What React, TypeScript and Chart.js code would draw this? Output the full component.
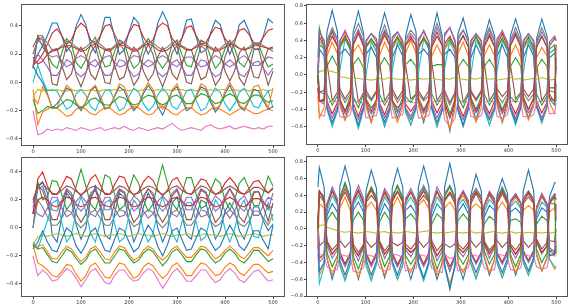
import React, { useEffect, useRef } from 'react';
import { Chart, registerables } from 'chart.js';
Chart.register(...registerables);

const COLORS = ['#1f77b4', '#ff7f0e', '#2ca02c', '#d62728', '#9467bd', '#8c564b', '#e377c2', '#7f7f7f', '#bcbd22', '#17becf'];
// sample positions: left panels every 10 steps; right panels at the start / middle / end of each half-cycle
const X = [0,10,20,30,40,50,60,70,80,90,100,110,120,130,140,150,160,170,180,190,200,210,220,230,240,250,260,270,280,290,300,310,320,330,340,350,360,370,380,390,400,410,420,430,440,450,460,470,480,490,500];
const RX = [0,3,13, 19,30,41,46,57,68, 74,85,96,101,112,123, 129,140,151,156,167,178, 184,195,206,211,222,233, 239,250,261,266,277,288, 294,305,316,321,332,343, 349,360,371,376,387,398, 404,415,426,431,442,453, 459,470,481,486,497, 500];
const X_TICKS = [0, 100, 200, 300, 400, 500];
const Y_TICKS_LEFT = [-0.4, -0.2, 0, 0.2, 0.4];
const Y_TICKS_TR = [-0.6, -0.4, -0.2, 0, 0.2, 0.4, 0.6, 0.8];
const Y_TICKS_BR = [-0.8, -0.6, -0.4, -0.2, 0, 0.2, 0.4, 0.6, 0.8];

// ---- top-left panel ----
const tlBlueA = [0.12,0.2,0.26,0.33,0.42,0.42,0.33,0.22,0.26,0.4,0.48,0.41,0.27,0.21,0.32,0.46,0.46,0.32,0.2,0.23,0.36,0.46,0.42,0.28,0.2,0.27,0.42,0.5,0.43,0.28,0.2,0.31,0.44,0.45,0.32,0.21,0.23,0.35,0.44,0.41,0.29,0.2,0.28,0.41,0.44,0.36,0.24,0.23,0.33,0.45,0.42];
const tlOrangeA = [-0.05,-0.3,-0.21,-0.19,-0.17,-0.18,-0.21,-0.24,-0.23,-0.19,-0.17,-0.19,-0.22,-0.23,-0.2,-0.18,-0.18,-0.21,-0.23,-0.22,-0.19,-0.17,-0.18,-0.21,-0.23,-0.22,-0.18,-0.17,-0.19,-0.22,-0.23,-0.2,-0.18,-0.18,-0.21,-0.23,-0.22,-0.19,-0.18,-0.19,-0.21,-0.23,-0.21,-0.19,-0.18,-0.2,-0.22,-0.22,-0.2,-0.19,-0.2];
const tlGreenA = [0.1,0.33,0.25,0.2,0.13,0.1,0.21,0.31,0.27,0.14,0.1,0.16,0.27,0.32,0.2,0.11,0.12,0.22,0.3,0.28,0.17,0.1,0.13,0.25,0.31,0.26,0.15,0.1,0.15,0.27,0.3,0.2,0.12,0.11,0.22,0.3,0.28,0.18,0.1,0.14,0.24,0.3,0.24,0.14,0.11,0.18,0.27,0.27,0.18,0.11,0.13];
const tlRedA = [0.12,0.15,0.2,0.27,0.35,0.38,0.33,0.27,0.3,0.38,0.42,0.39,0.3,0.27,0.33,0.4,0.41,0.34,0.27,0.28,0.35,0.41,0.4,0.32,0.27,0.3,0.39,0.42,0.4,0.31,0.27,0.31,0.39,0.4,0.33,0.27,0.28,0.34,0.39,0.38,0.31,0.27,0.3,0.37,0.38,0.34,0.28,0.27,0.32,0.37,0.38];
const tlPurpleA = [0.2,0.3,0.27,0.2,0.18,0.19,0.15,0.11,0.13,0.17,0.19,0.17,0.13,0.11,0.15,0.18,0.19,0.14,0.11,0.12,0.16,0.19,0.18,0.13,0.11,0.13,0.17,0.19,0.17,0.13,0.11,0.15,0.18,0.18,0.14,0.11,0.12,0.16,0.19,0.17,0.13,0.11,0.13,0.17,0.19,0.16,0.12,0.12,0.15,0.18,0.17];
const tlBrownA = [0.1,0.33,0.33,0.22,-0.01,-0.02,0.13,0.26,0.21,0.05,-0.03,0.06,0.21,0.26,0.13,0.0,-0.01,0.14,0.27,0.23,0.08,-0.02,0.03,0.19,0.27,0.2,0.05,-0.03,0.06,0.21,0.26,0.13,0.0,-0.01,0.14,0.26,0.23,0.08,-0.02,0.03,0.18,0.27,0.18,0.03,-0.02,0.08,0.23,0.24,0.1,-0.02,0.08];
const tlPink = [-0.2,-0.37,-0.36,-0.33,-0.34,-0.33,-0.34,-0.32,-0.33,-0.34,-0.32,-0.33,-0.34,-0.33,-0.32,-0.34,-0.33,-0.32,-0.33,-0.31,-0.33,-0.34,-0.32,-0.33,-0.34,-0.33,-0.32,-0.33,-0.31,-0.29,-0.32,-0.34,-0.33,-0.32,-0.33,-0.34,-0.31,-0.3,-0.32,-0.33,-0.32,-0.31,-0.33,-0.32,-0.31,-0.32,-0.33,-0.32,-0.33,-0.31,-0.31];
const tlGray = [0.2,0.3,0.32,0.28,0.23,0.23,0.26,0.29,0.28,0.25,0.23,0.25,0.28,0.29,0.27,0.24,0.23,0.26,0.29,0.28,0.25,0.23,0.24,0.27,0.29,0.28,0.25,0.23,0.25,0.28,0.29,0.26,0.24,0.23,0.26,0.29,0.28,0.25,0.23,0.24,0.27,0.29,0.27,0.24,0.23,0.25,0.28,0.28,0.26,0.24,0.24];
const tlOlive = [-0.1,-0.05,-0.06,-0.05,-0.06,-0.05,-0.06,-0.06,-0.05,-0.06,-0.05,-0.06,-0.05,-0.06,-0.06,-0.05,-0.06,-0.05,-0.06,-0.05,-0.06,-0.05,-0.06,-0.05,-0.05,-0.06,-0.05,-0.06,-0.05,-0.06,-0.05,-0.05,-0.06,-0.05,-0.06,-0.05,-0.06,-0.05,-0.06,-0.05,-0.05,-0.06,-0.05,-0.06,-0.05,-0.06,-0.05,-0.06,-0.05,-0.06,-0.05];
const tlCyan = [0.0,0.12,0.02,-0.06,-0.05,-0.06,-0.13,-0.19,-0.17,-0.08,-0.05,-0.09,-0.17,-0.2,-0.12,-0.06,-0.05,-0.13,-0.2,-0.18,-0.1,-0.04,-0.07,-0.15,-0.2,-0.17,-0.09,-0.04,-0.08,-0.17,-0.19,-0.13,-0.06,-0.05,-0.13,-0.2,-0.18,-0.1,-0.04,-0.07,-0.15,-0.2,-0.15,-0.07,-0.04,-0.1,-0.17,-0.18,-0.11,-0.06,-0.18];
const tlBlueB = [0.12,0.05,0.0,-0.08,-0.18,-0.15,-0.1,-0.04,-0.06,-0.15,-0.2,-0.14,-0.06,-0.03,-0.12,-0.19,-0.17,-0.1,-0.03,-0.06,-0.14,-0.2,-0.16,-0.08,-0.02,-0.07,-0.17,-0.23,-0.15,-0.06,-0.03,-0.12,-0.2,-0.18,-0.1,-0.03,-0.05,-0.14,-0.21,-0.16,-0.08,-0.02,-0.09,-0.17,-0.2,-0.13,-0.05,-0.06,-0.13,-0.19,-0.17];
const tlOrangeB = [-0.1,-0.15,-0.03,-0.09,-0.18,-0.18,-0.09,-0.02,-0.05,-0.14,-0.19,-0.14,-0.05,-0.02,-0.09,-0.18,-0.18,-0.09,-0.01,-0.03,-0.12,-0.19,-0.16,-0.06,0.0,-0.05,-0.14,-0.19,-0.14,-0.05,-0.01,-0.09,-0.18,-0.18,-0.09,-0.01,-0.03,-0.12,-0.19,-0.16,-0.06,0.0,-0.06,-0.16,-0.19,-0.12,-0.03,-0.02,-0.11,-0.18,-0.04];
const tlGreenB = [-0.12,-0.22,-0.2,-0.17,-0.18,-0.18,-0.15,-0.12,-0.13,-0.16,-0.18,-0.16,-0.12,-0.11,-0.14,-0.16,-0.16,-0.13,-0.1,-0.11,-0.14,-0.16,-0.15,-0.11,-0.09,-0.1,-0.14,-0.16,-0.14,-0.1,-0.09,-0.12,-0.15,-0.15,-0.11,-0.08,-0.09,-0.12,-0.15,-0.14,-0.1,-0.08,-0.1,-0.14,-0.15,-0.12,-0.09,-0.09,-0.12,-0.14,-0.13];
const tlRedB = [0.18,0.13,0.15,0.2,0.22,0.23,0.25,0.26,0.26,0.24,0.22,0.23,0.26,0.27,0.25,0.23,0.22,0.25,0.27,0.26,0.24,0.22,0.23,0.26,0.27,0.26,0.23,0.22,0.23,0.26,0.27,0.25,0.23,0.23,0.25,0.27,0.26,0.24,0.22,0.23,0.25,0.27,0.26,0.24,0.23,0.24,0.26,0.26,0.25,0.24,0.25];
const tlPurpleB = [0.15,0.2,0.16,0.11,0.05,0.05,0.1,0.16,0.14,0.07,0.04,0.07,0.14,0.16,0.11,0.05,0.05,0.1,0.16,0.15,0.09,0.04,0.06,0.13,0.16,0.14,0.07,0.04,0.07,0.14,0.16,0.11,0.05,0.05,0.11,0.16,0.15,0.08,0.04,0.06,0.13,0.16,0.13,0.06,0.04,0.09,0.14,0.15,0.1,0.05,0.1];
const tlBrownB = [0.25,0.32,0.3,0.2,0.23,0.24,0.12,0.02,0.06,0.19,0.25,0.19,0.06,0.02,0.12,0.23,0.24,0.12,0.02,0.04,0.16,0.25,0.21,0.08,0.01,0.06,0.18,0.25,0.19,0.06,0.02,0.12,0.23,0.23,0.12,0.02,0.04,0.16,0.25,0.21,0.08,0.01,0.08,0.21,0.25,0.16,0.04,0.03,0.14,0.24,0.22];

// ---- top-right panel (values at RX) ----
const trBlueA = [0.0,-0.3,-0.3, 0.5,0.75,0.5,-0.3,-0.52,-0.3, 0.5,0.74,0.48,-0.32,-0.55,-0.3, 0.48,0.72,0.5,-0.3,-0.5,-0.32, 0.45,0.7,0.5,-0.32,-0.55,-0.3, 0.45,0.72,0.45,-0.35,-0.65,-0.3, 0.48,0.66,0.42,-0.3,-0.52,-0.3, 0.42,0.64,0.45,-0.32,-0.55,-0.3, 0.45,0.65,0.45,-0.3,-0.5,-0.32, 0.42,0.65,0.45,-0.28,-0.35, 0.2];
const trOrangeA = [-0.2,0.4,0.3, -0.38,-0.58,-0.4,0.3,0.47,0.28, -0.4,-0.6,-0.38,0.32,0.4,0.26, -0.38,-0.6,-0.4,0.3,0.42,0.28, -0.4,-0.58,-0.36,0.28,0.45,0.3, -0.36,-0.6,-0.4,0.3,0.38,0.25, -0.4,-0.6,-0.38,0.3,0.45,0.28, -0.36,-0.58,-0.4,0.28,0.44,0.28, -0.4,-0.52,-0.36,0.3,0.4,0.26, -0.36,-0.56,-0.38,0.25,0.3, 0.3];
const trGreenA = [0.1,-0.3,-0.28, 0.1,0.22,0.1,-0.28,-0.42,-0.25, 0.12,0.2,0.08,-0.28,-0.38,-0.3, 0.1,0.2,0.1,-0.28,-0.42,-0.26, 0.12,0.18,0.1,-0.26,-0.4,-0.3, 0.1,0.12,0.12,-0.26,-0.45,-0.28, 0.08,0.18,0.1,-0.26,-0.4,-0.25, 0.1,0.18,0.08,-0.25,-0.4,-0.26, 0.1,0.2,0.1,-0.25,-0.4,-0.26, 0.08,0.18,0.1,-0.22,-0.32, -0.3];
const trRedA = [-0.1,0.45,0.33, -0.3,-0.45,-0.32,0.35,0.45,0.33, -0.32,-0.48,-0.3,0.34,0.42,0.34, -0.32,-0.46,-0.3,0.35,0.44,0.34, -0.34,-0.42,-0.33,0.34,0.43,0.34, -0.3,-0.44,-0.32,0.36,0.45,0.32, -0.34,-0.48,-0.32,0.34,0.44,0.34, -0.32,-0.45,-0.3,0.34,0.48,0.33, -0.32,-0.45,-0.3,0.35,0.43,0.34, -0.3,-0.44,-0.32,0.34,0.42, 0.4];
const trPurpleA = [0.0,-0.3,-0.34, 0.38,0.52,0.4,-0.32,-0.45,-0.34, 0.4,0.53,0.38,-0.34,-0.45,-0.32, 0.38,0.52,0.4,-0.32,-0.44,-0.34, 0.4,0.48,0.4,-0.34,-0.45,-0.32, 0.38,0.55,0.4,-0.32,-0.48,-0.35, 0.4,0.52,0.38,-0.34,-0.44,-0.32, 0.38,0.52,0.38,-0.32,-0.45,-0.34, 0.38,0.5,0.37,-0.32,-0.44,-0.34, 0.36,0.5,0.38,-0.28,-0.3, -0.1];
const trBrownA = [-0.1,0.5,0.4, 0.15,-0.3,-0.2,0.4,0.5,0.38, 0.1,-0.32,-0.2,0.4,0.48,0.42, 0.18,-0.3,-0.2,0.44,0.5,0.4, 0.12,-0.28,-0.22,0.42,0.5,0.38, 0.15,-0.3,-0.2,0.48,0.55,0.4, 0.1,-0.32,-0.2,0.4,0.48,0.4, 0.15,-0.3,-0.2,0.42,0.5,0.38, 0.12,-0.28,-0.2,0.4,0.48,0.4, 0.12,-0.3,-0.2,0.38,0.45, 0.4];
const trPink = [-0.2,-0.45,-0.48, -0.32,-0.3,-0.31,-0.48,-0.5,-0.46, -0.3,-0.31,-0.33,-0.5,-0.48,-0.47, -0.31,-0.3,-0.32,-0.5,-0.48,-0.46, -0.3,-0.31,-0.33,-0.5,-0.49,-0.47, -0.32,-0.3,-0.31,-0.52,-0.6,-0.5, -0.3,-0.31,-0.32,-0.48,-0.5,-0.47, -0.32,-0.3,-0.31,-0.48,-0.5,-0.46, -0.31,-0.3,-0.32,-0.48,-0.49,-0.46, -0.32,-0.3,-0.31,-0.45,-0.44, -0.32];
const trGray = [0.1,-0.2,-0.22, 0.4,0.55,0.42,-0.2,-0.32,-0.22, 0.45,0.6,0.44,-0.22,-0.3,-0.2, 0.42,0.58,0.4,-0.2,-0.32,-0.22, 0.42,0.52,0.44,-0.22,-0.3,-0.24, 0.42,0.6,0.44,-0.22,-0.35,-0.22, 0.44,0.52,0.4,-0.2,-0.3,-0.2, 0.4,0.55,0.4,-0.22,-0.32,-0.22, 0.4,0.55,0.4,-0.2,-0.3,-0.22, 0.38,0.55,0.4,-0.18,-0.2, 0.1];
const trOlive = [0.0,0.04,0.05, 0.05,0.04,0.02,-0.02,-0.03,-0.04, -0.03,-0.04,-0.05,-0.05,-0.06,-0.05, -0.04,-0.05,-0.03,-0.04,-0.05,-0.05, -0.04,-0.06,-0.05,-0.04,-0.05,-0.04, -0.03,-0.05,-0.06,-0.04,-0.05,-0.03, -0.04,-0.05,-0.06,-0.04,-0.05,-0.03, -0.04,-0.05,-0.04,-0.06,-0.05,-0.04, -0.03,-0.05,-0.04,-0.06,-0.05,-0.04, -0.05,-0.03,-0.05,-0.06,-0.05, -0.06];
const trCyan = [0.0,0.35,0.3, -0.4,-0.6,-0.42,0.05,0.42,0.3, -0.42,-0.62,-0.4,0.0,0.38,0.28, -0.4,-0.6,-0.42,0.05,0.38,0.3, -0.44,-0.58,-0.4,0.02,0.42,0.3, -0.4,-0.6,-0.42,0.08,0.4,0.3, -0.42,-0.6,-0.4,0.0,0.4,0.3, -0.4,-0.58,-0.4,0.05,0.4,0.28, -0.4,-0.58,-0.38,0.02,0.4,0.28, -0.38,-0.55,-0.36,0.25,0.3, 0.3];
const trBlueB = [0.1,0.3,0.22, -0.38,-0.55,-0.4,0.24,0.3,0.22, -0.4,-0.58,-0.38,0.24,0.32,0.2, -0.38,-0.55,-0.38,0.2,0.35,0.22, -0.4,-0.52,-0.38,0.24,0.3,0.22, -0.38,-0.55,-0.4,0.24,0.3,0.2, -0.4,-0.58,-0.38,0.2,0.35,0.22, -0.4,-0.52,-0.38,0.22,0.35,0.2, -0.38,-0.55,-0.38,0.2,0.35,0.22, -0.36,-0.52,-0.36,0.2,0.25, 0.25];
const trOrangeB = [-0.25,-0.5,-0.38, 0.22,0.38,0.25,-0.36,-0.52,-0.38, 0.26,0.35,0.22,-0.38,-0.55,-0.36, 0.22,0.38,0.25,-0.38,-0.55,-0.38, 0.25,0.4,0.25,-0.36,-0.52,-0.38, 0.22,0.35,0.22,-0.4,-0.62,-0.4, 0.25,0.38,0.22,-0.36,-0.55,-0.38, 0.22,0.35,0.22,-0.36,-0.55,-0.38, 0.22,0.35,0.2,-0.35,-0.52,-0.36, 0.2,0.32,0.22,-0.32,-0.45, -0.45];
const trGreenB = [0.2,0.55,0.32, -0.22,-0.35,-0.24,0.32,0.42,0.3, -0.25,-0.38,-0.22,0.32,0.42,0.32, -0.22,-0.35,-0.24,0.3,0.45,0.3, -0.25,-0.32,-0.22,0.32,0.42,0.32, -0.22,-0.35,-0.24,0.32,0.42,0.3, -0.25,-0.38,-0.22,0.3,0.45,0.3, -0.22,-0.35,-0.24,0.32,0.42,0.3, -0.25,-0.32,-0.22,0.3,0.45,0.3, -0.22,-0.35,-0.24,0.3,0.35, -0.3];
const trRedB = [-0.15,-0.3,-0.3, 0.3,0.45,0.33,-0.28,-0.42,-0.3, 0.34,0.48,0.33,-0.3,-0.42,-0.28, 0.32,0.46,0.34,-0.3,-0.38,-0.32, 0.34,0.42,0.34,-0.3,-0.42,-0.28, 0.32,0.45,0.34,-0.32,-0.5,-0.3, 0.34,0.46,0.32,-0.28,-0.42,-0.3, 0.32,0.45,0.32,-0.28,-0.42,-0.3, 0.34,0.46,0.32,-0.28,-0.4,-0.28, 0.32,0.45,0.32,-0.26,-0.3, 0.35];
const trPurpleB = [0.0,0.5,0.4, -0.34,-0.5,-0.36,0.38,0.52,0.38, -0.38,-0.52,-0.36,0.38,0.48,0.38, -0.34,-0.5,-0.36,0.4,0.5,0.36, -0.38,-0.48,-0.34,0.38,0.52,0.38, -0.34,-0.5,-0.36,0.45,0.55,0.38, -0.38,-0.52,-0.36,0.38,0.48,0.38, -0.34,-0.5,-0.36,0.38,0.52,0.36, -0.36,-0.5,-0.34,0.38,0.48,0.38, -0.34,-0.5,-0.36,0.34,0.42, 0.4];
const trBrownB = [0.0,-0.2,-0.18, 0.34,0.5,0.34,-0.16,-0.28,-0.18, 0.36,0.5,0.34,-0.18,-0.28,-0.18, 0.34,0.5,0.34,-0.16,-0.28,-0.18, 0.36,0.45,0.34,-0.18,-0.28,-0.18, 0.34,0.5,0.34,-0.18,-0.32,-0.2, 0.36,0.45,0.33,-0.18,-0.28,-0.18, 0.34,0.48,0.33,-0.16,-0.25,-0.18, 0.34,0.48,0.33,-0.16,-0.25,-0.16, 0.32,0.45,0.32,-0.15,-0.15, 0.1];

// ---- bottom-left panel ----
const blBlueA = [0.0,0.3,0.33,0.25,-0.05,-0.1,0.08,0.25,0.2,0.02,-0.08,0.0,0.2,0.3,0.15,-0.05,-0.08,0.1,0.25,0.22,0.05,-0.1,-0.02,0.15,0.25,0.18,0.0,-0.1,-0.02,0.18,0.22,0.1,-0.05,-0.08,0.08,0.2,0.18,0.05,-0.08,-0.02,0.12,0.18,0.12,-0.02,-0.08,0.02,0.15,0.15,0.05,-0.02,0.03];
const blOrangeA = [-0.12,-0.25,-0.27,-0.3,-0.34,-0.35,-0.31,-0.26,-0.27,-0.33,-0.38,-0.34,-0.27,-0.25,-0.3,-0.35,-0.36,-0.3,-0.25,-0.26,-0.31,-0.36,-0.34,-0.28,-0.25,-0.27,-0.32,-0.36,-0.33,-0.27,-0.25,-0.29,-0.34,-0.34,-0.29,-0.25,-0.26,-0.3,-0.34,-0.33,-0.28,-0.25,-0.27,-0.32,-0.34,-0.3,-0.26,-0.26,-0.29,-0.32,-0.31];
const blGreenA = [0.1,0.33,0.2,0.22,0.34,0.33,0.24,0.13,0.18,0.3,0.42,0.3,0.17,0.13,0.24,0.38,0.36,0.24,0.13,0.16,0.27,0.38,0.32,0.2,0.12,0.17,0.32,0.45,0.32,0.18,0.13,0.24,0.36,0.36,0.24,0.14,0.16,0.27,0.35,0.32,0.2,0.13,0.2,0.32,0.36,0.28,0.16,0.16,0.25,0.37,0.3];
const blRedA = [0.1,0.35,0.4,0.3,0.24,0.24,0.3,0.37,0.35,0.27,0.23,0.27,0.35,0.38,0.31,0.24,0.24,0.31,0.37,0.36,0.28,0.23,0.26,0.33,0.37,0.34,0.27,0.23,0.27,0.34,0.36,0.3,0.25,0.24,0.3,0.35,0.34,0.28,0.24,0.26,0.32,0.36,0.32,0.26,0.24,0.28,0.33,0.34,0.29,0.25,0.28];
const blPurpleA = [0.15,0.28,0.3,0.2,0.13,0.12,0.2,0.28,0.25,0.16,0.12,0.16,0.25,0.28,0.21,0.13,0.13,0.21,0.28,0.26,0.18,0.12,0.15,0.23,0.28,0.25,0.16,0.12,0.16,0.25,0.28,0.2,0.13,0.13,0.21,0.28,0.26,0.18,0.12,0.15,0.23,0.28,0.23,0.15,0.12,0.18,0.26,0.26,0.19,0.13,0.25];
const blBrownA = [0.2,0.3,0.32,0.28,0.25,0.24,0.27,0.3,0.29,0.26,0.24,0.26,0.29,0.3,0.27,0.25,0.24,0.27,0.3,0.29,0.26,0.24,0.25,0.28,0.3,0.29,0.26,0.24,0.26,0.29,0.3,0.27,0.25,0.24,0.27,0.3,0.29,0.26,0.24,0.25,0.28,0.3,0.28,0.25,0.24,0.26,0.29,0.29,0.27,0.25,0.29];
const blPink = [-0.2,-0.34,-0.3,-0.33,-0.38,-0.37,-0.33,-0.29,-0.31,-0.36,-0.42,-0.37,-0.31,-0.29,-0.34,-0.39,-0.4,-0.34,-0.3,-0.3,-0.35,-0.38,-0.37,-0.32,-0.29,-0.31,-0.37,-0.43,-0.38,-0.32,-0.29,-0.33,-0.38,-0.38,-0.34,-0.3,-0.3,-0.35,-0.39,-0.37,-0.32,-0.29,-0.32,-0.37,-0.39,-0.35,-0.31,-0.3,-0.34,-0.38,-0.37];
const blGray = [0.0,0.2,0.15,0.08,0.02,0.02,0.07,0.13,0.11,0.04,0.0,0.04,0.11,0.13,0.07,0.02,0.02,0.08,0.13,0.12,0.06,0.01,0.03,0.1,0.13,0.11,0.04,0.0,0.04,0.11,0.13,0.08,0.02,0.02,0.07,0.13,0.12,0.05,0.01,0.03,0.1,0.13,0.1,0.03,0.01,0.05,0.12,0.12,0.07,0.02,0.1];
const blOlive = [-0.12,-0.06,-0.05,-0.06,-0.05,-0.04,-0.05,-0.06,-0.05,-0.04,-0.05,-0.06,-0.05,-0.04,-0.05,-0.06,-0.05,-0.05,-0.04,-0.05,-0.06,-0.05,-0.04,-0.05,-0.05,-0.06,-0.05,-0.04,-0.05,-0.06,-0.05,-0.05,-0.04,-0.05,-0.06,-0.05,-0.04,-0.05,-0.05,-0.06,-0.05,-0.04,-0.05,-0.06,-0.05,-0.05,-0.04,-0.05,-0.06,-0.05,-0.05];
const blCyan = [-0.1,-0.15,-0.05,0.05,0.18,0.2,0.04,-0.1,-0.05,0.12,0.22,0.12,-0.04,-0.1,0.04,0.18,0.2,0.03,-0.1,-0.07,0.09,0.2,0.15,-0.02,-0.1,-0.04,0.12,0.22,0.12,-0.04,-0.1,0.04,0.18,0.18,0.04,-0.09,-0.06,0.09,0.2,0.15,-0.01,-0.1,-0.01,0.14,0.2,0.08,-0.06,-0.07,0.06,0.18,0.05];
const blBlueB = [-0.15,-0.1,-0.02,-0.1,-0.16,-0.17,-0.08,0.0,-0.03,-0.13,-0.18,-0.12,-0.03,0.0,-0.08,-0.16,-0.17,-0.08,0.0,-0.02,-0.1,-0.17,-0.14,-0.05,0.02,-0.03,-0.13,-0.2,-0.12,-0.02,0.0,-0.08,-0.16,-0.15,-0.07,0.0,-0.02,-0.1,-0.16,-0.13,-0.05,0.02,-0.04,-0.13,-0.16,-0.1,-0.02,-0.02,-0.09,-0.15,0.02];
const blOrangeB = [-0.12,-0.13,-0.12,-0.17,-0.22,-0.22,-0.17,-0.13,-0.15,-0.2,-0.24,-0.21,-0.15,-0.13,-0.17,-0.22,-0.23,-0.17,-0.13,-0.14,-0.19,-0.23,-0.21,-0.16,-0.13,-0.15,-0.2,-0.23,-0.2,-0.15,-0.13,-0.17,-0.21,-0.21,-0.17,-0.13,-0.14,-0.18,-0.22,-0.2,-0.16,-0.13,-0.16,-0.2,-0.22,-0.18,-0.14,-0.14,-0.17,-0.2,-0.16];
const blGreenB = [-0.12,-0.15,-0.14,-0.19,-0.24,-0.25,-0.2,-0.15,-0.17,-0.22,-0.26,-0.23,-0.17,-0.15,-0.2,-0.25,-0.25,-0.2,-0.15,-0.16,-0.21,-0.25,-0.23,-0.18,-0.15,-0.17,-0.22,-0.27,-0.23,-0.17,-0.15,-0.19,-0.24,-0.24,-0.19,-0.15,-0.16,-0.21,-0.25,-0.23,-0.18,-0.15,-0.18,-0.23,-0.25,-0.21,-0.16,-0.16,-0.2,-0.24,-0.22];
const blRedB = [0.1,0.2,0.22,0.2,0.16,0.15,0.19,0.22,0.21,0.17,0.15,0.17,0.21,0.22,0.19,0.16,0.15,0.19,0.22,0.21,0.18,0.15,0.16,0.2,0.22,0.21,0.17,0.15,0.17,0.21,0.22,0.19,0.16,0.16,0.19,0.22,0.21,0.18,0.15,0.16,0.2,0.22,0.2,0.16,0.15,0.18,0.21,0.21,0.18,0.15,0.15];
const blPurpleB = [0.15,0.1,0.08,0.14,0.22,0.22,0.14,0.08,0.1,0.19,0.23,0.19,0.1,0.08,0.14,0.22,0.22,0.14,0.08,0.09,0.17,0.23,0.2,0.12,0.07,0.1,0.19,0.23,0.19,0.1,0.08,0.14,0.22,0.22,0.14,0.08,0.09,0.17,0.23,0.2,0.12,0.07,0.12,0.2,0.23,0.17,0.09,0.09,0.16,0.22,0.2];
const blBrownB = [0.18,0.3,0.27,0.17,0.06,0.06,0.17,0.27,0.23,0.1,0.04,0.1,0.23,0.27,0.17,0.06,0.06,0.17,0.27,0.25,0.13,0.04,0.08,0.21,0.28,0.23,0.1,0.04,0.1,0.23,0.27,0.17,0.06,0.06,0.17,0.27,0.25,0.13,0.04,0.08,0.21,0.28,0.21,0.08,0.04,0.13,0.25,0.26,0.15,0.05,0.18];

// ---- bottom-right panel (values at RX) ----
const brBlueA = [0.5,0.73,0.5, -0.35,-0.6,-0.38,0.5,0.75,0.5, -0.38,-0.6,-0.36,0.45,0.7,0.48, -0.36,-0.58,-0.38,0.48,0.72,0.5, -0.38,-0.6,-0.38,0.5,0.75,0.5, -0.38,-0.6,-0.4,0.5,0.78,0.48, -0.4,-0.6,-0.36,0.4,0.65,0.45, -0.34,-0.55,-0.36,0.4,0.6,0.42, -0.34,-0.55,-0.36,0.45,0.7,0.45, -0.3,-0.5,-0.34,0.38,0.55, 0.55];
const brOrangeA = [-0.3,-0.55,-0.42, 0.25,0.45,0.3,-0.42,-0.6,-0.4, 0.3,0.45,0.28,-0.4,-0.6,-0.42, 0.25,0.42,0.3,-0.4,-0.6,-0.42, 0.3,0.45,0.28,-0.42,-0.6,-0.4, 0.25,0.45,0.28,-0.44,-0.65,-0.44, 0.3,0.4,0.27,-0.4,-0.58,-0.4, 0.24,0.4,0.3,-0.4,-0.58,-0.38, 0.28,0.38,0.25,-0.38,-0.55,-0.36, 0.22,0.38,0.28,-0.36,-0.48, -0.45];
const brGreenA = [0.0,-0.35,-0.3, 0.1,0.2,0.1,-0.28,-0.42,-0.28, 0.1,0.2,0.1,-0.28,-0.42,-0.3, 0.08,0.2,0.1,-0.3,-0.45,-0.3, 0.12,0.18,0.1,-0.28,-0.42,-0.3, 0.06,0.18,0.12,-0.32,-0.5,-0.3, 0.1,0.18,0.1,-0.28,-0.4,-0.28, 0.06,0.15,0.1,-0.28,-0.4,-0.26, 0.1,0.12,0.08,-0.26,-0.38,-0.26, 0.06,0.15,0.1,-0.22,-0.28, -0.25];
const brRedA = [0.1,-0.35,-0.3, 0.28,0.46,0.33,-0.28,-0.42,-0.3, 0.33,0.47,0.32,-0.3,-0.42,-0.28, 0.28,0.45,0.34,-0.28,-0.42,-0.3, 0.34,0.44,0.33,-0.3,-0.42,-0.28, 0.26,0.45,0.34,-0.3,-0.45,-0.32, 0.33,0.44,0.3,-0.28,-0.4,-0.28, 0.28,0.44,0.34,-0.28,-0.4,-0.26, 0.32,0.42,0.3,-0.26,-0.38,-0.26, 0.26,0.42,0.3,-0.26,-0.3, 0.3];
const brPurpleA = [0.0,0.45,0.38, -0.2,-0.35,-0.25,0.38,0.52,0.38, -0.25,-0.38,-0.22,0.38,0.48,0.38, -0.18,-0.35,-0.24,0.4,0.5,0.36, -0.25,-0.33,-0.22,0.38,0.52,0.38, -0.2,-0.38,-0.26,0.42,0.52,0.38, -0.25,-0.33,-0.22,0.38,0.48,0.38, -0.18,-0.35,-0.22,0.38,0.48,0.35, -0.24,-0.35,-0.22,0.36,0.45,0.35, -0.16,-0.3,-0.2,0.34,0.42, 0.4];
const brBrownA = [0.1,-0.2,-0.15, 0.3,0.45,0.32,-0.14,-0.22,-0.15, 0.32,0.45,0.3,-0.14,-0.22,-0.16, 0.28,0.44,0.32,-0.16,-0.2,-0.16, 0.34,0.43,0.32,-0.14,-0.22,-0.15, 0.28,0.45,0.32,-0.18,-0.22,-0.18, 0.32,0.44,0.3,-0.14,-0.22,-0.15, 0.28,0.42,0.3,-0.14,-0.22,-0.15, 0.32,0.4,0.3,-0.14,-0.22,-0.15, 0.26,0.4,0.28,-0.14,-0.15, 0.0];
const brPink = [-0.2,-0.3,-0.32, -0.45,-0.5,-0.48,-0.3,-0.32,-0.33, -0.5,-0.52,-0.46,-0.3,-0.32,-0.34, -0.46,-0.5,-0.48,-0.3,-0.31,-0.34, -0.5,-0.48,-0.47,-0.3,-0.32,-0.33, -0.47,-0.5,-0.52,-0.3,-0.35,-0.34, -0.5,-0.48,-0.46,-0.3,-0.32,-0.33, -0.46,-0.5,-0.48,-0.3,-0.31,-0.34, -0.48,-0.5,-0.46,-0.3,-0.32,-0.33, -0.45,-0.48,-0.46,-0.3,-0.32, -0.32];
const brGray = [0.1,0.45,0.38, -0.16,-0.3,-0.22,0.38,0.55,0.38, -0.22,-0.32,-0.2,0.36,0.5,0.38, -0.16,-0.3,-0.22,0.38,0.52,0.38, -0.22,-0.28,-0.22,0.42,0.5,0.4, -0.18,-0.32,-0.22,0.42,0.5,0.38, -0.22,-0.28,-0.2,0.38,0.48,0.38, -0.16,-0.28,-0.2,0.36,0.5,0.36, -0.2,-0.3,-0.2,0.36,0.45,0.35, -0.14,-0.28,-0.2,0.32,0.4, 0.35];
const brOlive = [0.0,0.04,0.05, 0.02,0.0,-0.02,-0.03,-0.04,-0.03, -0.04,-0.05,-0.04,-0.03,-0.04,-0.05, -0.04,-0.03,-0.05,-0.04,-0.05,-0.04, -0.03,-0.04,-0.05,-0.04,-0.03,-0.02, -0.04,-0.05,-0.04,-0.05,-0.04,-0.03, -0.04,-0.05,-0.04,-0.03,-0.05,-0.04, -0.05,-0.04,-0.03,-0.04,-0.05,-0.04, -0.03,-0.05,-0.04,-0.05,-0.04,-0.05, -0.04,-0.05,-0.04,-0.05,-0.04, -0.04];
const brCyan = [-0.2,-0.65,-0.45, 0.2,0.4,0.28,-0.44,-0.62,-0.42, 0.28,0.4,0.25,-0.44,-0.62,-0.42, 0.2,0.38,0.28,-0.42,-0.6,-0.44, 0.28,0.38,0.26,-0.44,-0.62,-0.42, 0.2,0.38,0.28,-0.46,-0.7,-0.45, 0.28,0.35,0.24,-0.42,-0.6,-0.4, 0.2,0.35,0.28,-0.4,-0.58,-0.4, 0.26,0.33,0.24,-0.4,-0.55,-0.38, 0.16,0.32,0.26,-0.36,-0.45, -0.45];
const brBlueB = [-0.1,-0.5,-0.4, 0.16,0.3,0.2,-0.38,-0.55,-0.36, 0.22,0.32,0.2,-0.36,-0.55,-0.38, 0.14,0.3,0.2,-0.38,-0.55,-0.36, 0.22,0.28,0.18,-0.4,-0.58,-0.38, 0.14,0.3,0.22,-0.42,-0.72,-0.42, 0.2,0.3,0.18,-0.36,-0.52,-0.36, 0.14,0.28,0.22,-0.36,-0.52,-0.35, 0.2,0.25,0.18,-0.35,-0.5,-0.34, 0.12,0.25,0.2,-0.32,-0.3, -0.2];
const brOrangeB = [-0.2,0.3,0.25, -0.35,-0.55,-0.38,0.25,0.38,0.22, -0.4,-0.58,-0.36,0.25,0.32,0.22, -0.35,-0.55,-0.38,0.25,0.38,0.24, -0.4,-0.52,-0.36,0.28,0.35,0.24, -0.35,-0.55,-0.42,0.25,0.32,0.22, -0.4,-0.52,-0.36,0.24,0.3,0.24, -0.32,-0.52,-0.36,0.22,0.32,0.22, -0.36,-0.52,-0.35,0.22,0.28,0.22, -0.32,-0.5,-0.35,0.2,0.25, 0.25];
const brGreenB = [0.0,0.45,0.36, -0.28,-0.45,-0.32,0.36,0.55,0.36, -0.32,-0.48,-0.3,0.35,0.5,0.35, -0.26,-0.45,-0.32,0.36,0.52,0.36, -0.32,-0.42,-0.32,0.36,0.48,0.36, -0.28,-0.48,-0.32,0.38,0.5,0.35, -0.32,-0.42,-0.3,0.35,0.45,0.35, -0.26,-0.42,-0.3,0.33,0.48,0.33, -0.3,-0.45,-0.3,0.33,0.42,0.32, -0.24,-0.4,-0.28,0.3,0.4, -0.3];
const brRedB = [0.1,0.45,0.34, -0.16,-0.3,-0.22,0.34,0.48,0.34, -0.22,-0.32,-0.2,0.34,0.46,0.33, -0.16,-0.3,-0.22,0.35,0.45,0.34, -0.22,-0.28,-0.22,0.35,0.45,0.33, -0.18,-0.32,-0.22,0.35,0.44,0.34, -0.22,-0.28,-0.2,0.34,0.44,0.35, -0.16,-0.3,-0.2,0.33,0.45,0.33, -0.2,-0.3,-0.2,0.32,0.44,0.32, -0.16,-0.28,-0.2,0.3,0.38, 0.35];
const brPurpleB = [0.0,-0.4,-0.33, 0.3,0.5,0.36,-0.32,-0.45,-0.32, 0.36,0.52,0.36,-0.32,-0.45,-0.32, 0.28,0.48,0.38,-0.32,-0.45,-0.33, 0.36,0.48,0.35,-0.32,-0.45,-0.32, 0.28,0.5,0.38,-0.34,-0.5,-0.34, 0.35,0.46,0.34,-0.3,-0.42,-0.3, 0.28,0.45,0.36,-0.3,-0.42,-0.3, 0.34,0.42,0.32,-0.28,-0.4,-0.28, 0.25,0.42,0.3,-0.26,-0.25, -0.15];
const brBrownB = [0.0,0.4,0.32, -0.14,-0.25,-0.18,0.32,0.44,0.3, -0.18,-0.28,-0.18,0.32,0.4,0.32, -0.14,-0.26,-0.18,0.32,0.44,0.32, -0.18,-0.24,-0.16,0.32,0.4,0.32, -0.14,-0.26,-0.18,0.33,0.42,0.3, -0.18,-0.24,-0.16,0.3,0.42,0.3, -0.14,-0.25,-0.18,0.3,0.42,0.3, -0.18,-0.25,-0.16,0.3,0.38,0.3, -0.12,-0.24,-0.16,0.3,0.3, 0.1];

// series lists in plotting order (color cycle C0..C9, C0..C5)
const TL_SERIES = [tlBlueA, tlOrangeA, tlGreenA, tlRedA, tlPurpleA, tlBrownA, tlPink, tlGray, tlOlive, tlCyan, tlBlueB, tlOrangeB, tlGreenB, tlRedB, tlPurpleB, tlBrownB];
const TR_SERIES = [trBlueA, trOrangeA, trGreenA, trRedA, trPurpleA, trBrownA, trPink, trGray, trOlive, trCyan, trBlueB, trOrangeB, trGreenB, trRedB, trPurpleB, trBrownB];
const BL_SERIES = [blBlueA, blOrangeA, blGreenA, blRedA, blPurpleA, blBrownA, blPink, blGray, blOlive, blCyan, blBlueB, blOrangeB, blGreenB, blRedB, blPurpleB, blBrownB];
const BR_SERIES = [brBlueA, brOrangeA, brGreenA, brRedA, brPurpleA, brBrownA, brPink, brGray, brOlive, brCyan, brBlueB, brOrangeB, brGreenB, brRedB, brPurpleB, brBrownB];

const FONT = { size: 5, family: 'DejaVu Sans' };

function fmtY(v: number) {
  const s = Math.abs(v).toFixed(1);
  return (v < -1e-9 ? '\u2212' : '') + s;
}

const framePlugin = {
  id: 'frame',
  afterDraw(chart: any) {
    const { ctx, chartArea: a } = chart;
    ctx.save();
    ctx.strokeStyle = '#555';
    ctx.lineWidth = 1;
    ctx.strokeRect(Math.round(a.left) + 0.5, Math.round(a.top) + 0.5, Math.round(a.right - a.left) - 1, Math.round(a.bottom - a.top) - 1);
    ctx.restore();
  },
};

type PanelProps = {
  left: number; top: number; width: number; height: number; xs: number[];
  yMin: number; yMax: number; yTicks: number[]; series: number[][];
  padTop: number; padRight: number; yWidth: number; xHeight: number;
};

function Panel(p: PanelProps) {
  const ref = useRef<HTMLCanvasElement | null>(null);
  useEffect(() => {
    if (!ref.current) return;
    const chart = new Chart(ref.current, {
      type: 'line',
      data: {
        datasets: p.series.map((arr, i) => ({
          data: p.xs.map((x, j) => ({ x, y: arr[j] })),
          borderColor: COLORS[i % 10],
          backgroundColor: COLORS[i % 10],
          borderWidth: 1.1,
          pointRadius: 0,
          fill: false,
          tension: 0,
          order: -i,
        })),
      },
      options: {
        animation: false,
        responsive: false,
        maintainAspectRatio: false,
        events: [],
        layout: { padding: { top: p.padTop, right: p.padRight, left: 0, bottom: 0 } },
        plugins: { legend: { display: false }, tooltip: { enabled: false } },
        scales: {
          x: {
            type: 'linear', min: -25, max: 525,
            afterBuildTicks: (s: any) => { s.ticks = X_TICKS.map((v) => ({ value: v })); },
            afterFit: (s: any) => { s.height = p.xHeight; s.paddingLeft = 0; s.paddingRight = 0; },
            grid: { drawOnChartArea: false, drawTicks: true, tickLength: 2, color: '#444' },
            border: { display: false },
            ticks: { font: FONT, color: '#333', padding: 1, maxRotation: 0, autoSkip: false, callback: (v: any) => String(v) },
          },
          y: {
            type: 'linear', min: p.yMin, max: p.yMax,
            afterBuildTicks: (s: any) => { s.ticks = p.yTicks.map((v) => ({ value: v })); },
            afterFit: (s: any) => { s.width = p.yWidth; s.paddingTop = 0; s.paddingBottom = 0; },
            grid: { drawOnChartArea: false, drawTicks: true, tickLength: 2, color: '#444' },
            border: { display: false },
            ticks: { font: FONT, color: '#333', padding: 1, autoSkip: false, callback: (v: any) => fmtY(Number(v)) },
          },
        },
      } as any,
      plugins: [framePlugin],
    });
    return () => chart.destroy();
  }, []);
  return (
    <canvas
      ref={ref}
      width={p.width}
      height={p.height}
      style={{ position: 'absolute', left: p.left, top: p.top, width: p.width, height: p.height }}
    />
  );
}

export default function App() {
  return (
    <div style={{ position: 'fixed', left: 0, top: 0, width: 575, height: 307, background: '#fff', overflow: 'hidden' }}>
      <Panel left={0} top={0} width={288} height={155} xs={X} yMin={-0.45} yMax={0.555} yTicks={Y_TICKS_LEFT} series={TL_SERIES} padTop={4} padRight={3} yWidth={21} xHeight={9} />
      <Panel left={288} top={0} width={287} height={155} xs={RX} yMin={-0.812} yMax={0.823} yTicks={Y_TICKS_TR} series={TR_SERIES} padTop={4} padRight={7} yWidth={18} xHeight={10} />
      <Panel left={0} top={155} width={288} height={152} xs={X} yMin={-0.493} yMax={0.507} yTicks={Y_TICKS_LEFT} series={BL_SERIES} padTop={2} padRight={3} yWidth={21} xHeight={10} />
      <Panel left={288} top={155} width={287} height={152} xs={RX} yMin={-0.81} yMax={0.868} yTicks={Y_TICKS_BR} series={BR_SERIES} padTop={1} padRight={7} yWidth={18} xHeight={10} />
    </div>
  );
}
